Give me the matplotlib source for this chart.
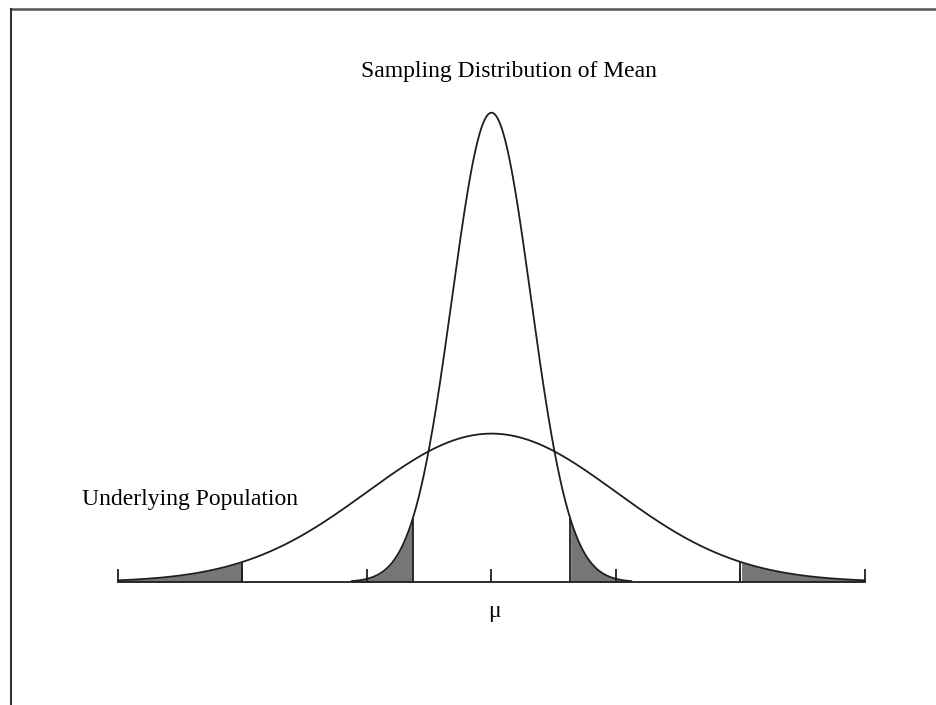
import numpy as np
import matplotlib
matplotlib.use('Agg')
import matplotlib.pyplot as plt
from matplotlib.lines import Line2D

# population and sampling distribution parameters (in units of population sigma)
pop_mean = 0.0
pop_sigma = 1.0
sample_size = 10
cutoff_z = 2.0
pop_range = 3.0          # population curve drawn out to +/- 3 sigma
sample_range_z = 3.55    # sampling curve drawn out to this many sampling sigmas
tick_positions = [-3, -2, -1, 0, 1, 2, 3]

title_text = 'Sampling Distribution of Mean'
pop_label = 'Underlying Population'
mean_label = '\u03bc'


def normal_pdf(x, mu, sigma):
  return np.exp(-0.5 * ((x - mu) / sigma) ** 2) / (sigma * np.sqrt(2 * np.pi))


plt.rcParams['font.family'] = ['Liberation Serif', 'DejaVu Serif']

fig = plt.figure(figsize=(9.37, 7.05), dpi=100)
ax = fig.add_axes([0, 0, 1, 1])
ax.set_axis_off()

# map data units to the pixel layout of the reference
px_per_x = 124.5
px_per_y = 372.0
x_lo = -pop_range - 118 / px_per_x
ax.set_xlim(x_lo, x_lo + 937 / px_per_x)
y_lo = -123 / px_per_y
ax.set_ylim(y_lo, y_lo + 705 / px_per_y)

line_kw = dict(color='#1e1e1e', lw=1.3)
shade = '#767676'

# underlying population
x_pop = np.linspace(pop_mean - pop_range, pop_mean + pop_range, 600)
y_pop = normal_pdf(x_pop, pop_mean, pop_sigma)
ax.plot(x_pop, y_pop, **line_kw)

# sampling distribution of the mean
se = pop_sigma / np.sqrt(sample_size)
x_s = np.linspace(pop_mean - sample_range_z * se, pop_mean + sample_range_z * se, 600)
y_s = normal_pdf(x_s, pop_mean, se)
ax.plot(x_s, y_s, **line_kw)

# shaded tails
for xs, ys, sd in [(x_pop, y_pop, pop_sigma), (x_s, y_s, se)]:
  c = cutoff_z * sd
  lo = xs <= pop_mean - c
  hi = xs >= pop_mean + c
  ax.fill_between(xs[lo], 0, ys[lo], color=shade, lw=0)
  ax.fill_between(xs[hi], 0, ys[hi], color=shade, lw=0)
  for edge in (pop_mean - c, pop_mean + c):
    ax.vlines(edge, 0, normal_pdf(edge, pop_mean, sd), **line_kw)

# baseline with ticks
ax.plot([pop_mean - pop_range, pop_mean + pop_range], [0, 0], **line_kw)
ax.vlines(tick_positions, 0, 13 / px_per_y, **line_kw)

# labels
ax.text(x_lo + 361 / px_per_x, (582 - 71) / px_per_y, title_text, ha='left', va='center', fontsize=17)
ax.text(x_lo + 82 / px_per_x, (582 - 499) / px_per_y, pop_label, ha='left', va='center', fontsize=17)
ax.text(x_lo + 494 / px_per_x, (582 - 611) / px_per_y, mean_label, ha='center', va='center', fontsize=17)

# frame lines (top and left)
fig.add_artist(Line2D([11 / 937, 1], [1 - 9 / 705, 1 - 9 / 705], transform=fig.transFigure, color='#555555', lw=1.8))
fig.add_artist(Line2D([11 / 937, 11 / 937], [0, 1 - 9 / 705], transform=fig.transFigure, color='#333333', lw=1.5))

fig.savefig('out.png', dpi=100, facecolor='white')
